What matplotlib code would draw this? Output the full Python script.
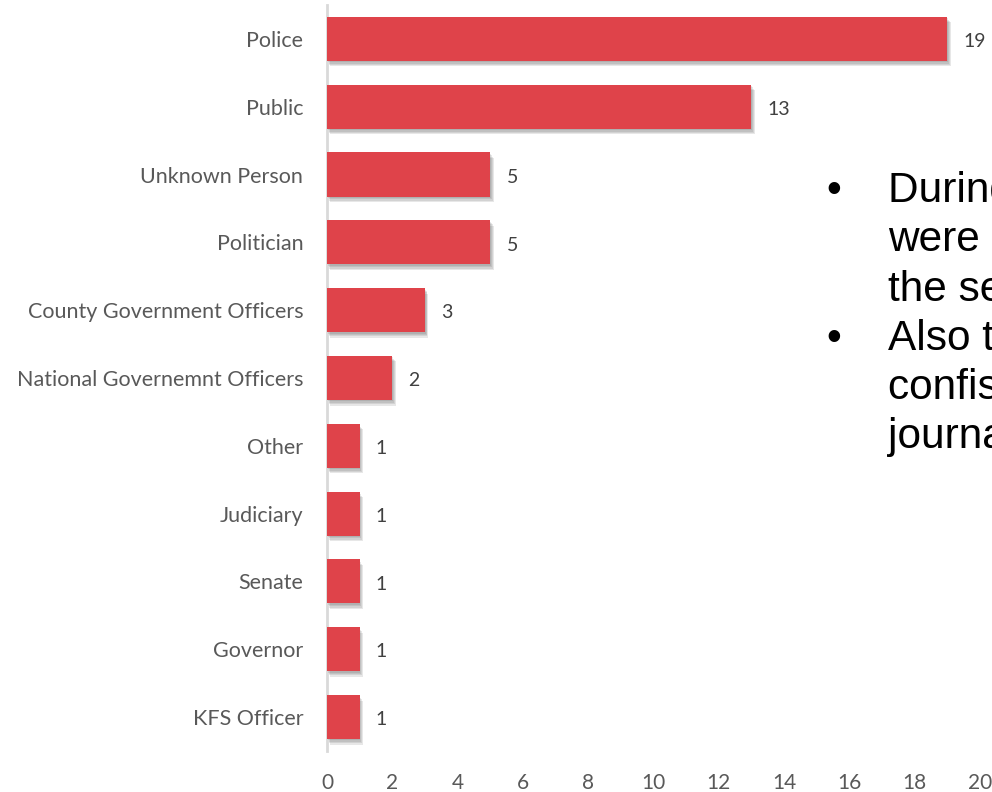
import matplotlib.pyplot as plt
import matplotlib.patheffects as pe

categories = ["Police", "Public", "Unknown Person", "Politician",
              "County Government Officers", "National Governemnt Officers",
              "Other", "Judiciary", "Senate", "Governor", "KFS Officer"]
counts = [19, 13, 5, 5, 3, 2, 1, 1, 1, 1, 1]
xticks = [0, 2, 4, 6, 8, 10, 12, 14, 16, 18, 20]

bullet_lines = [
    ("\u2022", "During the period under review police"),
    ("", "were the main perpetrators of attacks on"),
    ("", "the security of journalists"),
    ("\u2022", "Also there were cases of arrests and"),
    ("", "confiscation of equipment belonging to"),
    ("", "journalists"),
]

plt.rcParams['font.family'] = ['Lato', 'DejaVu Sans']

fig = plt.figure(figsize=(9.92, 7.92), dpi=100)
ax = fig.add_axes([0.3296, 0.0518, 0.6583, 0.9419])

ypos = list(range(len(categories)))
bars = ax.barh(ypos, counts, height=0.65, color='#DF434A', zorder=3)
# soft drop shadow, built from a few faint offset copies
shadow = [pe.SimplePatchShadow(offset=(o * 0.6, -o), shadow_rgbFace='#404040', alpha=0.12)
          for o in (1.0, 2.0, 3.0, 4.0)]
for b in bars:
    b.set_path_effects(shadow + [pe.Normal()])

for y, v in zip(ypos, counts):
    ax.text(v + 0.5, y + 0.04, str(v), va='center', ha='left', fontsize=14, color='#404040')

ax.set_xlim(0, 20)
ax.set_ylim(len(categories) - 0.5, -0.5)
ax.set_yticks(ypos)
ax.set_yticklabels(categories, fontsize=15.5, color='#595959')
ax.set_xticks(xticks)
ax.set_xticklabels([str(t) for t in xticks], fontsize=15, color='#595959')
ax.tick_params(axis='y', length=0, pad=17)
ax.tick_params(axis='x', length=0, pad=16)
for s in ['top', 'right', 'bottom']:
    ax.spines[s].set_visible(False)
ax.spines['left'].set_color('#D9D9D9')
ax.spines['left'].set_linewidth(2)

# overlapping slide text (cut by the figure edge)
y0 = 1 - 202 / 792
dy = 49.3 / 792
for i, (mark, line) in enumerate(bullet_lines):
    yy = y0 - i * dy
    if mark:
        fig.text(826 / 992, yy, mark, fontsize=30.5, va='baseline', ha='left',
                 family='Liberation Sans', color='black')
    fig.text(888 / 992, yy, line, fontsize=30.5, va='baseline', ha='left',
             family='Liberation Sans', color='black')

fig.savefig('out.png', dpi=100)
